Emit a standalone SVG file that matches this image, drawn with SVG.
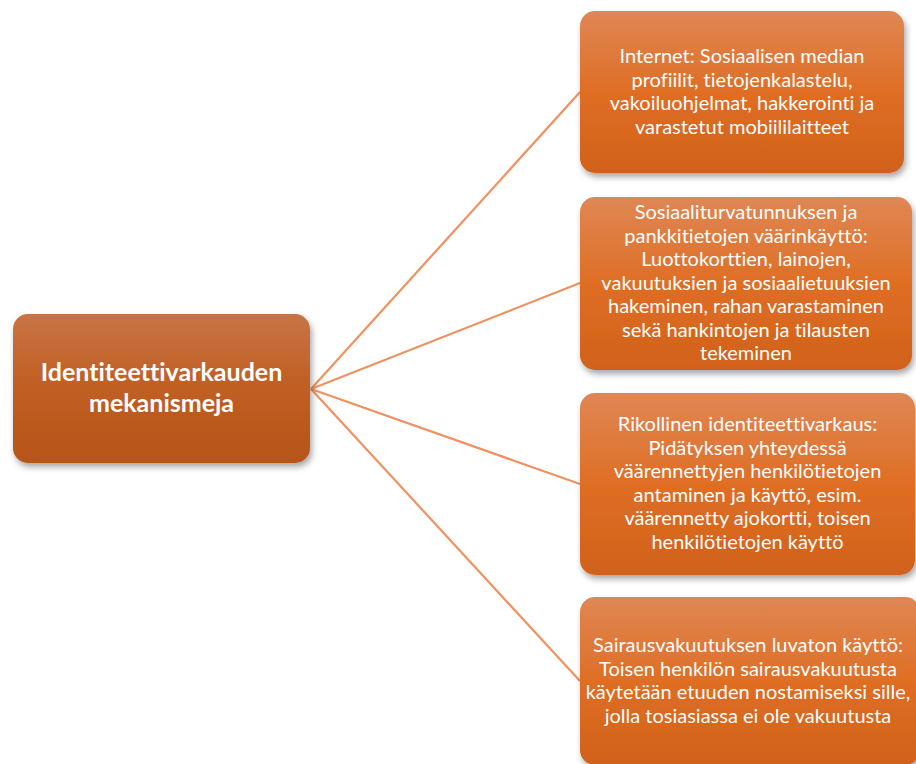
<svg xmlns="http://www.w3.org/2000/svg" width="916" height="764" viewBox="0 0 916 764">
<defs>
<linearGradient id="gR" x1="0" y1="0" x2="0" y2="1">
<stop offset="0" stop-color="#DF8755"/>
<stop offset="0.5" stop-color="#DF6E24"/>
<stop offset="1" stop-color="#D1611A"/>
</linearGradient>
<linearGradient id="gL" x1="0" y1="0" x2="0" y2="1">
<stop offset="0" stop-color="#C97446"/>
<stop offset="0.5" stop-color="#C05E22"/>
<stop offset="1" stop-color="#B65419"/>
</linearGradient>
<filter id="sh" x="-10%" y="-10%" width="125%" height="130%">
<feDropShadow dx="2" dy="4" stdDeviation="3" flood-color="#000" flood-opacity="0.35"/>
</filter>
</defs>
<style>
.conn line{stroke:#EF9160;stroke-width:2.2;fill:none}
.rn rect{fill:url(#gR);filter:url(#sh)}
.ln rect{fill:url(#gL);filter:url(#sh)}
text{font-family:Lato,"Open Sans","Liberation Sans",sans-serif;fill:#fff;text-anchor:middle;font-variant-ligatures:none}
.t{font-size:20px}
.b{font-size:25px;font-weight:bold}
</style>
<rect width="916" height="764" fill="#fff"/>
<g id="connectors" class="conn">
<line x1="311" y1="389" x2="580" y2="92"/>
<line x1="311" y1="389" x2="580" y2="283"/>
<line x1="311" y1="389" x2="580" y2="484"/>
<line x1="311" y1="389" x2="580" y2="681"/>
</g>
<g id="root" class="ln">
<rect x="13" y="314" width="297" height="149" rx="15"/>
<text class="b"><tspan x="161.5" y="381">Identiteettivarkauden</tspan><tspan x="161.5" y="412">mekanismeja</tspan></text>
</g>
<g id="n1" class="rn">
<rect x="580" y="11" width="324" height="162" rx="15"/>
<text class="t"><tspan x="742" y="63">Internet: Sosiaalisen median</tspan><tspan x="742" y="86.5">profiilit, tietojenkalastelu,</tspan><tspan x="742" y="110">vakoiluohjelmat, hakkerointi ja</tspan><tspan x="742" y="133.5">varastetut mobiililaitteet</tspan></text>
</g>
<g id="n2" class="rn">
<rect x="580" y="197" width="332" height="173" rx="15"/>
<text class="t"><tspan x="746" y="219">Sosiaaliturvatunnuksen ja</tspan><tspan x="746" y="242.5">pankkitietojen väärinkäyttö:</tspan><tspan x="746" y="266">Luottokorttien, lainojen,</tspan><tspan x="746" y="289.5">vakuutuksien ja sosiaalietuuksien</tspan><tspan x="746" y="313">hakeminen, rahan varastaminen</tspan><tspan x="746" y="336.5">sekä hankintojen ja tilausten</tspan><tspan x="746" y="360">tekeminen</tspan></text>
</g>
<g id="n3" class="rn">
<rect x="580" y="393" width="335" height="182" rx="15"/>
<text class="t"><tspan x="747.5" y="431">Rikollinen identiteettivarkaus:</tspan><tspan x="747.5" y="454.5">Pidätyksen yhteydessä</tspan><tspan x="747.5" y="478">väärennettyjen henkilötietojen</tspan><tspan x="747.5" y="501.5">antaminen ja käyttö, esim.</tspan><tspan x="747.5" y="525">väärennetty ajokortti, toisen</tspan><tspan x="747.5" y="548.5">henkilötietojen käyttö</tspan></text>
</g>
<g id="n4" class="rn">
<rect x="580" y="597" width="340" height="168" rx="15"/>
<text class="t"><tspan x="748" y="652">Sairausvakuutuksen luvaton käyttö:</tspan><tspan x="748" y="675.5">Toisen henkilön sairausvakuutusta</tspan><tspan x="748" y="699">käytetään etuuden nostamiseksi sille,</tspan><tspan x="748" y="722.5">jolla tosiasiassa ei ole vakuutusta</tspan></text>
</g>
</svg>
